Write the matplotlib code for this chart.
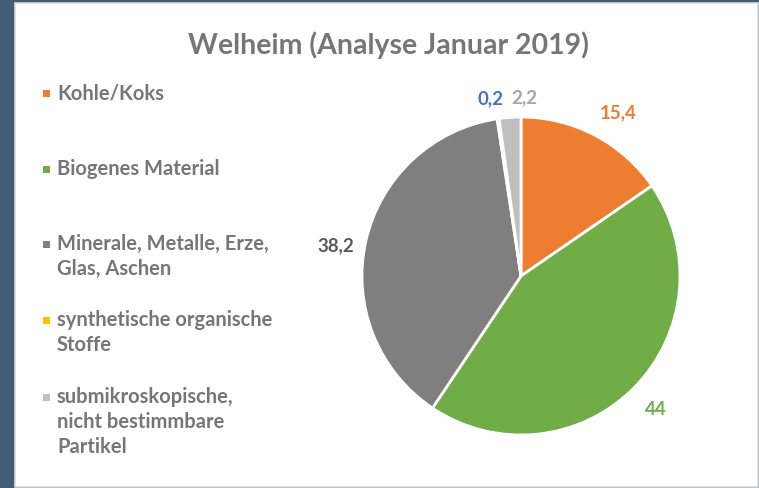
import matplotlib
matplotlib.use("Agg")
import matplotlib.pyplot as plt
from matplotlib.patches import Rectangle
import numpy as np

categories = ["Kohle/Koks", "Biogenes Material", "Minerale, Metalle, Erze,\nGlas, Aschen",
              "synthetische organische\nStoffe", "submikroskopische,\nnicht bestimmbare\nPartikel"]
values = [15.4, 44, 38.2, 0.2, 2.2]
value_labels = ["15,4", "44", "38,2", "0,2", "2,2"]
colors = ["#ED7D31", "#70AD47", "#7F7F7F", "#FFC000", "#BFBFBF"]
label_colors = ["#ED7D31", "#70AD47", "#595959", "#4472C4", "#A6A6A6"]
title = "Welheim (Analyse Januar 2019)"

W, H = 759, 489
fig = plt.figure(figsize=(W / 100, H / 100), dpi=100)
fig.patch.set_facecolor("#425D73")
fig.patches.append(Rectangle((15 / W, 1 / H), 743 / W, 484 / H, transform=fig.transFigure,
                             facecolor="white", edgecolor="#D9D9D9", linewidth=1.2,
                             zorder=-5))

font = "Lato"
text_color = "#767676"

# pie axes: centre (521, 277) px, radius 159 px
R = 159
cx, cy = 521, 277
lim = 1.3
side = 2 * lim * R
ax = fig.add_axes([(cx - side / 2) / W, (H - cy - side / 2) / H, side / W, side / H])
ax.set_xlim(-lim, lim)
ax.set_ylim(-lim, lim)
ax.set_aspect("equal")
ax.axis("off")
ax.patch.set_alpha(0)

wedges, _ = ax.pie(values, colors=colors, startangle=90, counterclock=False, radius=1,
                   wedgeprops=dict(edgecolor="white", linewidth=2))
ax.set_xlim(-lim, lim)
ax.set_ylim(-lim, lim)

# label positions from wedge mid angles
dist = [1.20, 1.19, 1.18, 1.14, 1.13]
ang_offset = [-3, 0, 3, 1.5, -5]
for w, lab, c, d, off in zip(wedges, value_labels, label_colors, dist, ang_offset):
    mid = np.deg2rad((w.theta1 + w.theta2) / 2 + off)
    ax.text(d * np.cos(mid), d * np.sin(mid), lab, color=c, fontsize=13.5,
            fontweight="bold", family=font, ha="center", va="center")

fig.text(388 / W, 1 - 45 / H, title, ha="center", va="center", fontsize=20.5,
         fontweight="bold", color=text_color, family=font)

# legend
legend_y = [94, 170, 245, 321, 398]
for y, cat, col in zip(legend_y, categories, colors):
    fig.patches.append(Rectangle((43 / W, 1 - (y + 3.5) / H), 7 / W, 7 / H,
                                 transform=fig.transFigure, facecolor=col, edgecolor="none"))
    fig.text(57 / W, 1 - (y - 11) / H, cat, ha="left", va="top", fontsize=14.5,
             fontweight="bold", color=text_color, family=font, linespacing=1.3)

fig.savefig("out.png", dpi=100, facecolor=fig.get_facecolor())
